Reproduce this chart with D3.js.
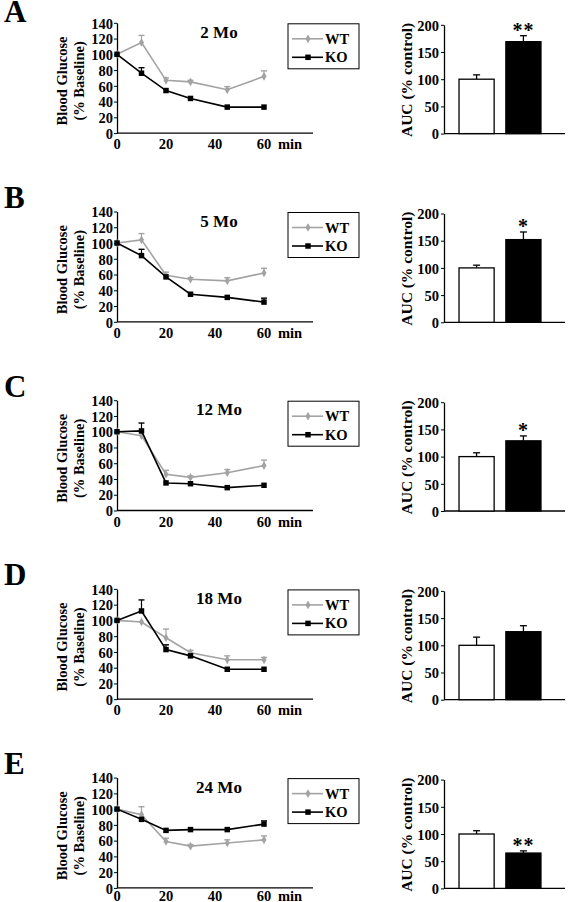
<!DOCTYPE html>
<html><head><meta charset="utf-8">
<script src="https://cdn.jsdelivr.net/npm/d3@7/dist/d3.min.js"></script>
<style>
html,body{margin:0;padding:0;background:#fff;}
svg text{font-family:"Liberation Serif","Times New Roman",serif;font-weight:bold;}
</style></head>
<body><svg id="c" width="577" height="902"></svg>
<script>
// ---- data ----
const panelLetters = ["A","B","C","D","E"];
const ageLabels = ["2 Mo","5 Mo","12 Mo","18 Mo","24 Mo"];
const times = [0,10,20,30,45,60];
const xTicks = [0,20,40,60];
const glucoseTicks = [0,20,40,60,80,100,120,140];
const aucTicks = [0,50,100,150,200];
const groups = ["WT","KO"];

const wtMean = [
  [100,115,67,65,55,72],
  [100,104,59,54,52,62],
  [100,95,46,42,48,57],
  [100,98,78,59,50,50],
  [100,93,59,53,57,61]
];
const wtErr = [
  [100,124,70,67,59,79],
  [100,112,63,56,56,68],
  [100,95,51,44,52,64],
  [100,98,89,62,55,53],
  [100,103,63,55,61,66]
];
const koMean = [
  [100,76,54,44,33,33],
  [100,84,57,35,31,25],
  [100,101,35,34,29,32],
  [100,112,63,55,38,38],
  [100,87,73,74,74,81]
];
const koErr = [
  [100,83,54,44,33,33],
  [100,92,57,35,31,30],
  [100,111,35,34,29,32],
  [100,126,69,55,38,38],
  [100,87,73,74,74,85]
];
const aucWT = [100,100,100,100,100];
const aucWTErr = [108,105,107,115,106];
const aucKO = [169,152,129,125,65];
const aucKOErr = [180,166,138,136,69];
const aucStars = ["**","*","*","","**"];

// ---- layout ----
const svg = d3.select("#c");
const GRAY = "#a3a3a3";
const step = 188.7, top0 = 22.8, plotH = 110.3;

panelLetters.forEach((L, i) => {
  const top = top0 + i*step, bottom = top + plotH;
  const g = svg.append("g");

  // panel letter
  g.append("text").attr("x", 4).attr("y", Math.max(bottom - 114, 22)).attr("font-size", 31).text(L);

  // ---- line chart ----
  const x = d3.scaleLinear().domain([0,60]).range([117,264]);
  const y = d3.scaleLinear().domain([0,140]).range([bottom, top]);

  // y axis
  const ya = g.append("g").attr("transform", `translate(117,0)`)
    .call(d3.axisLeft(y).tickValues(glucoseTicks).tickSize(3).tickPadding(1).tickSizeOuter(0));
  ya.select(".domain").attr("stroke","#000").attr("stroke-width",1.3);
  ya.selectAll("text").attr("font-size",14.5).attr("dy","0.36em").style("font-family","Liberation Serif").style("font-weight","bold");
  // x axis
  g.append("line").attr("x1",117).attr("x2",313).attr("y1",bottom).attr("y2",bottom)
    .attr("stroke","#000").attr("stroke-width",1.3);
  const xly = Math.min(bottom + 16, 901);
  g.selectAll(".xt").data(xTicks).enter().append("text")
    .attr("x", d => x(d)).attr("y", xly).attr("text-anchor","middle")
    .attr("font-size",14.5).text(d => d);
  g.append("text").attr("x", 278).attr("y", xly).attr("font-size",14.5).text("min");

  // y label
  const cy = top + plotH/2 + 3;
  g.append("text").attr("transform", `translate(67,${cy}) rotate(-90)`).attr("text-anchor","middle")
    .attr("font-size",14.5).text("Blood Glucose");
  g.append("text").attr("transform", `translate(84,${cy}) rotate(-90)`).attr("text-anchor","middle")
    .attr("font-size",14.5).text("(% Baseline)");

  // title
  g.append("text").attr("x", 219).attr("y", top + 15).attr("text-anchor","middle")
    .attr("font-size",17).text(ageLabels[i]);

  const line = d3.line().x((d,j) => x(times[j])).y(d => y(d));
  const series = [
    {mean: wtMean[i], err: wtErr[i], color: GRAY, shape: "diamond"},
    {mean: koMean[i], err: koErr[i], color: "#000", shape: "square"}
  ];
  series.forEach(s => {
    s.mean.forEach((m, j) => {
      const e = s.err[j];
      if (e - m < 0.5) return;
      const xx = x(times[j]);
      g.append("line").attr("x1",xx).attr("x2",xx).attr("y1",y(m)).attr("y2",y(e))
        .attr("stroke",s.color).attr("stroke-width",1.2);
      g.append("line").attr("x1",xx-3).attr("x2",xx+3).attr("y1",y(e)).attr("y2",y(e))
        .attr("stroke",s.color).attr("stroke-width",1.4);
    });
  });
  series.forEach(s => {
    g.append("path").datum(s.mean).attr("d", line).attr("fill","none")
      .attr("stroke", s.color).attr("stroke-width", 1.6);
    const sym = d3.symbol().type(s.shape === "square" ? d3.symbolSquare : d3.symbolDiamond)
      .size(s.shape === "square" ? 30 : 22);
    g.selectAll(null).data(s.mean).enter().append("path")
      .attr("d", sym).attr("transform", (d,j) => `translate(${x(times[j])},${y(d)})`)
      .attr("fill", s.color);
  });

  // legend
  const lt = top + 1;
  g.append("rect").attr("x",288).attr("y",lt).attr("width",71).attr("height",45)
    .attr("fill","#fff").attr("stroke","#000").attr("stroke-width",1);
  [["WT",GRAY,d3.symbolDiamond,22],["KO","#000",d3.symbolSquare,30]].forEach((r,k) => {
    const ly = lt + 15 + k*18.5;
    g.append("line").attr("x1",292).attr("x2",323).attr("y1",ly).attr("y2",ly)
      .attr("stroke",r[1]).attr("stroke-width",1.6);
    g.append("path").attr("d", d3.symbol().type(r[2]).size(r[3])).attr("transform",`translate(308,${ly})`).attr("fill",r[1]);
    g.append("text").attr("x",325).attr("y",ly+5).attr("font-size",14.5).text(r[0]);
  });

  // ---- bar chart ----
  const by = d3.scaleLinear().domain([0,200]).range([bottom+0.5, top+2]);
  const bx = d3.scaleBand().domain(groups).range([452,548]).paddingInner(0.25).paddingOuter(0.15);
  const bya = g.append("g").attr("transform", `translate(444,0)`)
    .call(d3.axisLeft(by).tickValues(aucTicks).tickSize(3).tickPadding(2).tickSizeOuter(0));
  bya.select(".domain").attr("stroke","#000").attr("stroke-width",1.3);
  bya.selectAll("text").attr("font-size",14.5).attr("dy","0.36em").style("font-family","Liberation Serif").style("font-weight","bold");
  g.append("line").attr("x1",444).attr("x2",565).attr("y1",by(0)).attr("y2",by(0))
    .attr("stroke","#000").attr("stroke-width",1.3);
  g.append("text").attr("transform", `translate(412,${top + plotH/2 + 2}) rotate(-90)`).attr("text-anchor","middle")
    .attr("font-size",15.5).text("AUC (% control)");

  const bars = [
    {k:"WT", v:aucWT[i], e:aucWTErr[i], fill:"#fff"},
    {k:"KO", v:aucKO[i], e:aucKOErr[i], fill:"#000"}
  ];
  bars.forEach(b => {
    const cx = bx(b.k) + bx.bandwidth()/2;
    g.append("line").attr("x1",cx).attr("x2",cx).attr("y1",by(b.v)).attr("y2",by(b.e))
      .attr("stroke","#000").attr("stroke-width",1.3);
    g.append("line").attr("x1",cx-3.5).attr("x2",cx+3.5).attr("y1",by(b.e)).attr("y2",by(b.e))
      .attr("stroke","#000").attr("stroke-width",1.3);
    g.append("rect").attr("x",bx(b.k)).attr("y",by(b.v)).attr("width",bx.bandwidth())
      .attr("height",by(0)-by(b.v)).attr("fill",b.fill).attr("stroke","#000").attr("stroke-width",1.3);
  });
  if (aucStars[i]) {
    const cx = bx("KO") + bx.bandwidth()/2;
    g.append("text").attr("x",cx).attr("y",by(aucKOErr[i]) + 1).attr("text-anchor","middle")
      .attr("font-size",20).attr("letter-spacing", 1).text(aucStars[i]);
  }
});
</script></body></html>
